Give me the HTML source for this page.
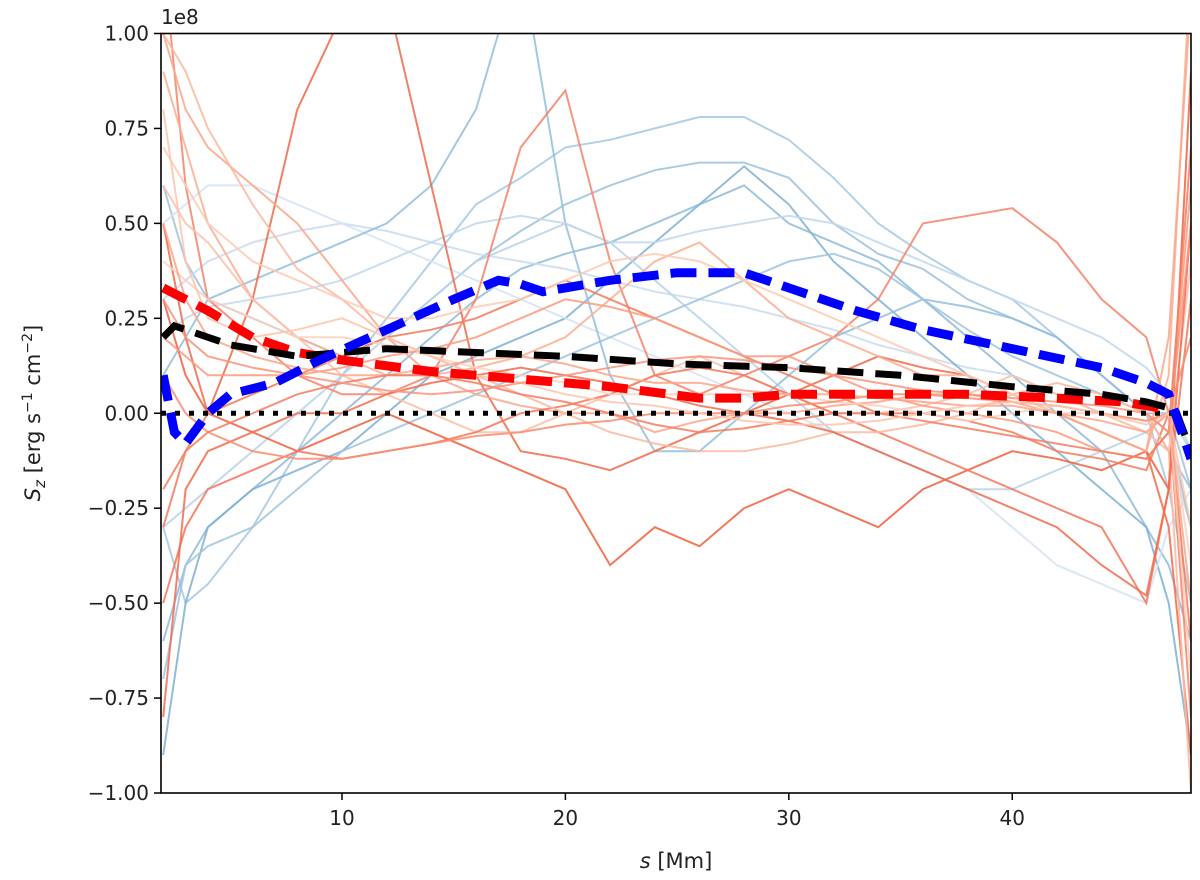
<!DOCTYPE html>
<html><head><meta charset="utf-8"><style>
body{margin:0;background:#fff;}
svg{display:block;font-family:"DejaVu Sans","Liberation Sans",sans-serif;}
</style></head><body>
<svg id="chart" width="1200" height="880" viewBox="0 0 1200 880" xmlns="http://www.w3.org/2000/svg">
<defs><clipPath id="clip"><rect x="161" y="33.5" width="1030" height="759.5"/></clipPath></defs>
<g id="bg" clip-path="url(#clip)"></g>
<g id="means" clip-path="url(#clip)"></g>
<rect x="161" y="33.5" width="1030" height="759.5" fill="none" stroke="#000" stroke-width="1.6"/>
<g id="axes"></g>
<text x="161" y="24" font-size="20" fill="#222">1e8</text>
<text x="676" y="868" font-size="21" text-anchor="middle" fill="#222"><tspan font-style="italic">s</tspan> [Mm]</text>
<text transform="translate(40,413) rotate(-90)" font-size="21" text-anchor="middle" fill="#222"><tspan font-style="italic">S</tspan><tspan font-style="italic" font-size="15" dy="5">z</tspan><tspan dy="-5"> [erg s</tspan><tspan font-size="14" dy="-8">−1</tspan><tspan dy="8"> cm</tspan><tspan font-size="14" dy="-8">−2</tspan><tspan dy="8">]</tspan></text>
</svg>
<script>
const xTicks=[10,20,30,40];
const yTicks=[-1.00,-0.75,-0.50,-0.25,0.00,0.25,0.50,0.75,1.00];
const xGrid=[2,3,4,6,8,10,12,14,16,18,20,22,24,26,28,30,32,34,36,38,40,42,44,46,47,48];
const redSeries=[
[0.5,0.2,0.0,0.3,0.8,1.05,1.1,0.6,0.1,-0.1,-0.12,-0.15,-0.1,-0.05,0.0,0.05,0.1,0.15,0.12,0.1,0.05,0.0,-0.05,-0.1,-0.3,-0.9],
[1.2,0.6,0.3,0.2,0.1,0.05,0.05,0.1,0.3,0.7,0.85,0.4,0.1,0.05,0.1,0.15,0.2,0.3,0.5,0.52,0.54,0.45,0.3,0.2,0.0,-0.8],
[0.3,0.1,0.0,-0.05,-0.1,-0.05,0.0,-0.05,-0.1,-0.15,-0.2,-0.4,-0.3,-0.35,-0.25,-0.2,-0.25,-0.3,-0.2,-0.15,-0.1,-0.12,-0.15,-0.1,-0.2,0.9],
[0.9,0.7,0.5,0.3,0.2,0.15,0.1,0.1,0.12,0.15,0.2,0.3,0.4,0.45,0.35,0.25,0.2,0.15,0.1,0.1,0.05,0.0,-0.05,-0.1,0.1,1.2],
[-0.3,-0.1,0.0,0.05,0.1,0.15,0.2,0.22,0.25,0.3,0.35,0.3,0.25,0.2,0.15,0.1,0.05,0.0,0.0,-0.02,-0.05,-0.1,-0.12,-0.15,0.0,-0.6],
[0.6,0.5,0.45,0.3,0.2,0.1,0.05,0.0,-0.05,-0.05,0.0,0.05,0.1,0.15,0.1,0.05,0.0,0.0,0.02,0.05,0.1,0.05,0.0,-0.05,-0.1,0.4],
[1.0,0.8,0.7,0.6,0.5,0.35,0.2,0.1,0.05,0.02,0.0,0.0,-0.05,-0.02,0.0,0.0,0.02,0.03,0.05,0.05,0.03,0.0,-0.05,-0.1,0.2,1.1],
[-0.5,-0.3,-0.2,-0.15,-0.1,-0.12,-0.1,-0.08,-0.05,0.0,0.02,0.05,0.1,0.12,0.1,0.05,0.0,-0.05,-0.1,-0.15,-0.2,-0.25,-0.3,-0.5,-0.2,0.3],
[0.4,0.35,0.3,0.25,0.2,0.2,0.18,0.15,0.12,0.1,0.08,0.05,0.05,0.05,0.05,0.05,0.03,0.02,0.0,-0.02,0.0,0.02,0.0,-0.02,0.0,-0.4],
[0.2,0.15,0.1,0.1,0.1,0.12,0.15,0.17,0.2,0.25,0.3,0.28,0.25,0.2,0.15,0.15,0.1,0.05,0.02,0.0,-0.02,-0.05,-0.1,-0.12,-0.05,0.6],
[1.0,0.9,0.75,0.55,0.38,0.3,0.2,0.15,0.1,0.05,0.0,-0.05,-0.08,-0.1,-0.1,-0.08,-0.05,-0.05,-0.03,0.0,0.05,0.08,0.05,0.0,-0.1,-1.0],
[-0.8,-0.2,-0.1,-0.05,0.0,0.0,0.05,0.08,0.1,0.12,0.1,0.08,0.05,0.02,0.0,-0.02,-0.05,-0.1,-0.15,-0.2,-0.25,-0.3,-0.4,-0.48,-0.2,0.5],
[0.7,0.6,0.5,0.4,0.35,0.3,0.25,0.25,0.28,0.3,0.35,0.4,0.42,0.4,0.35,0.3,0.25,0.2,0.15,0.1,0.05,0.0,0.0,-0.05,0.0,-0.7],
[0.1,0.0,-0.05,-0.1,-0.12,-0.12,-0.1,-0.08,-0.06,-0.05,-0.03,-0.02,0.0,0.0,0.0,0.02,0.03,0.05,0.05,0.04,0.03,0.02,0.0,-0.02,0.0,0.2],
[0.5,0.3,0.2,0.15,0.12,0.1,0.1,0.12,0.14,0.15,0.13,0.1,0.08,0.08,0.06,0.05,0.05,0.04,0.03,0.02,0.02,0.0,-0.02,-0.05,0.0,-0.5],
[-0.2,-0.1,-0.05,0.0,0.05,0.08,0.1,0.1,0.08,0.05,0.03,0.0,-0.03,-0.05,-0.04,-0.02,0.0,0.0,-0.02,-0.04,-0.06,-0.08,-0.1,-0.12,-0.05,0.7],
[0.8,0.4,0.25,0.2,0.22,0.25,0.2,0.15,0.1,0.08,0.05,0.03,0.02,0.0,-0.02,-0.03,-0.03,-0.02,0.0,0.02,0.03,0.02,0.0,-0.03,0.0,-0.3],
[0.3,0.2,0.15,0.12,0.1,0.08,0.06,0.05,0.06,0.08,0.1,0.12,0.14,0.15,0.14,0.12,0.1,0.08,0.06,0.05,0.04,0.03,0.02,0.0,-0.05,0.5]
];
const redColors=["#f06a4a","#f5826a","#f0603f","#fcae91","#f37a5a","#fbc0a8","#fca689","#f4765a","#fdd0bd","#fb9a7c","#fcb99f","#f26b4e","#fdcab4","#f88d70","#fca58a","#f47c60","#fdc4ad","#f9937a"];
const blueSeries=[
[-0.3,-0.5,-0.45,-0.3,-0.1,0.1,0.25,0.4,0.55,0.62,0.7,0.72,0.75,0.78,0.78,0.72,0.62,0.5,0.42,0.35,0.3,0.2,0.1,0.0,-0.2,-0.5],
[0.6,0.4,0.3,0.25,0.2,0.15,0.2,0.3,0.4,0.48,0.55,0.6,0.64,0.66,0.66,0.62,0.5,0.42,0.38,0.3,0.25,0.2,0.1,0.0,-0.1,-0.2],
[-0.6,-0.4,-0.3,-0.2,-0.1,0.0,0.1,0.2,0.3,0.38,0.42,0.45,0.5,0.55,0.6,0.5,0.45,0.4,0.3,0.2,0.1,0.0,-0.1,-0.3,-0.4,-0.6],
[0.3,0.35,0.4,0.45,0.48,0.5,0.48,0.45,0.42,0.4,0.38,0.35,0.32,0.3,0.28,0.25,0.22,0.18,0.15,0.12,0.1,0.05,0.0,-0.05,-0.1,-0.3],
[-0.9,-0.5,-0.3,-0.2,-0.15,-0.1,0.0,0.1,0.15,0.2,0.25,0.35,0.45,0.55,0.65,0.55,0.4,0.3,0.2,0.1,0.0,-0.1,-0.2,-0.3,-0.5,-0.9],
[0.5,0.55,0.6,0.6,0.55,0.5,0.45,0.4,0.35,0.3,0.25,0.2,0.15,0.1,0.05,0.0,-0.05,-0.1,-0.15,-0.2,-0.3,-0.4,-0.45,-0.5,-0.3,-0.2],
[-0.3,-0.25,-0.2,-0.1,0.0,0.1,0.2,0.3,0.4,0.45,0.5,0.45,0.35,0.25,0.15,0.05,-0.05,-0.1,-0.15,-0.2,-0.2,-0.15,-0.1,-0.05,0.0,-0.1],
[0.1,0.2,0.3,0.35,0.4,0.45,0.5,0.6,0.8,1.2,0.5,0.1,-0.1,-0.1,0.0,0.1,0.2,0.25,0.3,0.28,0.25,0.2,0.1,0.0,-0.05,-0.3],
[0.2,0.25,0.28,0.3,0.32,0.35,0.4,0.45,0.5,0.52,0.5,0.45,0.45,0.48,0.5,0.52,0.5,0.45,0.4,0.35,0.3,0.25,0.2,0.12,0.05,-0.1],
[-0.7,-0.4,-0.35,-0.3,-0.2,-0.1,-0.05,0.0,0.05,0.1,0.15,0.2,0.25,0.3,0.35,0.4,0.42,0.38,0.3,0.22,0.15,0.1,0.05,0.0,0.0,-0.2]
];
const blueColors=["#a6c8e0","#9bc2dc","#8fbbd9","#c9dcee","#7fb0d2","#d5e4f2","#b8d3e8","#92bfdc","#c1d8ec","#a0c4de"];
const sMean=[2,2.5,3,4,5,7,9,12,15,17,18,19,20,22,25,28,30,33,36,40,44,46,47,48];
const blueMean=[0.1,-0.05,-0.08,0.0,0.05,0.08,0.14,0.22,0.3,0.35,0.34,0.32,0.33,0.35,0.37,0.37,0.33,0.27,0.22,0.17,0.12,0.08,0.05,-0.12];
const sRed=[2,4,6,8,10,14,18,22,26,28,30,34,38,42,45,47];
const redMean=[0.33,0.27,0.2,0.16,0.14,0.11,0.09,0.07,0.04,0.04,0.05,0.05,0.05,0.04,0.03,0.01];
const sBlack=[2,2.5,3,5,8,12,16,20,25,30,35,40,44,46,47.3,48];
const blackMean=[0.2,0.23,0.22,0.18,0.15,0.17,0.16,0.15,0.13,0.12,0.1,0.07,0.05,0.03,0.01,-0.1];

const X0=161,X1=1191,Y0=793,Y1=33.5,xmin=1.9,xmax=48.0,ymin=-1,ymax=1;
const sx=v=>X0+(v-xmin)/(xmax-xmin)*(X1-X0);
const sy=v=>Y0-(v-ymin)/(ymax-ymin)*(Y0-Y1);
const NS="http://www.w3.org/2000/svg";
function path(xs,ys){return xs.map((x,i)=>(i?"L":"M")+sx(x).toFixed(1)+","+sy(ys[i]).toFixed(1)).join("");}
const bg=document.getElementById("bg"),means=document.getElementById("means"),axes=document.getElementById("axes");
blueSeries.forEach((ys,i)=>{const p=document.createElementNS(NS,"path");


p.setAttribute("d",path(xGrid,ys));p.setAttribute("fill","none");p.setAttribute("stroke",blueColors[i]);p.setAttribute("stroke-width","2");p.setAttribute("opacity","0.85");bg.appendChild(p);});
redSeries.forEach((ys,i)=>{const p=document.createElementNS(NS,"path");


p.setAttribute("d",path(xGrid,ys));p.setAttribute("fill","none");p.setAttribute("stroke",redColors[i]);p.setAttribute("stroke-width","2");p.setAttribute("opacity","0.85");bg.appendChild(p);});
function mline(xs,ys,col,dash,w,name){const p=document.createElementNS(NS,"path");


p.setAttribute("d",path(xs,ys));p.setAttribute("fill","none");p.setAttribute("stroke",col);p.setAttribute("stroke-width",w);p.setAttribute("stroke-dasharray",dash);means.appendChild(p);}
mline([xmin,xmax],[0,0],"#000","5 9","5","zero-line");
mline(sRed,redMean,"#ff0000","26 12","9","red-mean-line");
mline(sBlack,blackMean,"#000","26 12","7","black-mean-line");
mline(sMean,blueMean,"#0000ff","26 12","9","blue-mean-line");
xTicks.forEach(v=>{const x=sx(v);
const l=document.createElementNS(NS,"line");


l.setAttribute("x1",x);l.setAttribute("x2",x);l.setAttribute("y1",Y0);l.setAttribute("y2",Y0+7);l.setAttribute("stroke","#000");l.setAttribute("stroke-width","1.5");axes.appendChild(l);
const t=document.createElementNS(NS,"text");


t.setAttribute("x",x);t.setAttribute("y",Y0+32);t.setAttribute("font-size","20");t.setAttribute("text-anchor","middle");t.setAttribute("fill","#222");t.textContent=v;axes.appendChild(t);});
yTicks.forEach(v=>{const y=sy(v);
const l=document.createElementNS(NS,"line");


l.setAttribute("x1",X0-7);l.setAttribute("x2",X0);l.setAttribute("y1",y);l.setAttribute("y2",y);l.setAttribute("stroke","#000");l.setAttribute("stroke-width","1.5");axes.appendChild(l);
const t=document.createElementNS(NS,"text");


t.setAttribute("x",X0-12);t.setAttribute("y",y+7);t.setAttribute("font-size","20");t.setAttribute("text-anchor","end");t.setAttribute("fill","#222");t.textContent=(v<0?"−":"")+Math.abs(v).toFixed(2);axes.appendChild(t);});
</script>
</body></html>
